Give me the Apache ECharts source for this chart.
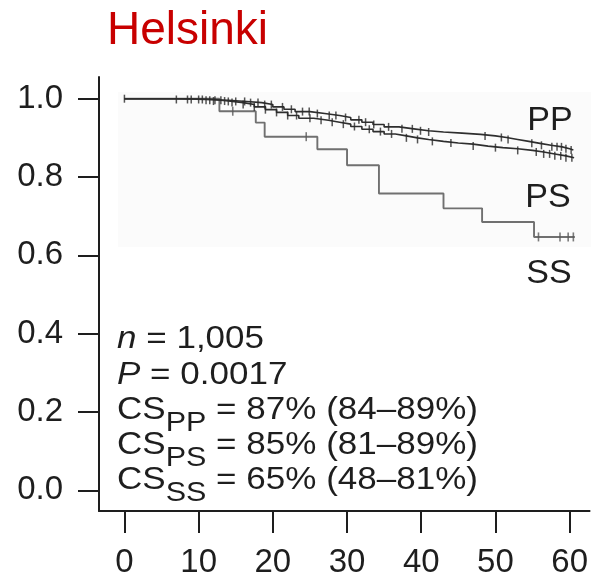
<!DOCTYPE html>
<html>
<head>
<meta charset="utf-8">
<script src="https://cdn.jsdelivr.net/npm/echarts@6/dist/echarts.min.js"></script>
<style>
  html, body { margin: 0; padding: 0; background: #ffffff; }
  #chart { width: 591px; height: 579px; }
</style>
</head>
<body>
<div id="chart"></div>
<script>
// Axis ticks
const xTicks = [0, 10, 20, 30, 40, 50, 60];
const yTicks = [0, 0.2, 0.4, 0.6, 0.8, 1.0];

// Kaplan–Meier steps: [month, survival after the event at that month]
const ppSteps = [[0, 1.0], [7, 0.998], [11, 0.996], [14, 0.993], [16.5, 0.99], [18.5, 0.985], [20, 0.979],
  [21.5, 0.973], [23, 0.967], [25, 0.962], [27, 0.957], [29, 0.952], [30.5, 0.946], [32, 0.94], [33.5, 0.934],
  [35, 0.928], [37, 0.923], [39, 0.918], [41, 0.915], [43, 0.912], [45.5, 0.909], [48, 0.905], [50, 0.901],
  [51.5, 0.896], [53, 0.891], [54.5, 0.886], [56, 0.881], [57.5, 0.877], [59, 0.872], [60, 0.869]];
const psSteps = [[0, 1.0], [9, 0.998], [12, 0.994], [14, 0.99], [16, 0.985], [17.5, 0.979], [19, 0.972],
  [20.5, 0.965], [22, 0.957], [23.5, 0.95], [25.5, 0.945], [27.5, 0.94], [29, 0.935], [30.5, 0.929], [32, 0.922],
  [33.5, 0.916], [35, 0.91], [36.5, 0.905], [38, 0.9], [39.5, 0.896], [41, 0.891], [43, 0.887], [45, 0.884],
  [47, 0.879], [49, 0.875], [51, 0.872], [53, 0.868], [55, 0.864], [56.5, 0.859], [58, 0.854], [59.5, 0.849]];
const ssSteps = [[0, 1.0], [12.8, 0.968], [17.7, 0.939], [18.9, 0.903], [26.0, 0.871], [30.0, 0.83],
  [34.3, 0.758], [43.0, 0.72], [48.2, 0.685], [55.2, 0.647]];

// Last follow-up month of each group
const ppLastFollowUp = 60.5;
const psLastFollowUp = 60.6;
const ssLastFollowUp = 60.7;

// Censored observations (months)
const ppCensored = [0, 7, 8.5, 10, 11, 11.5, 12.2, 13, 14, 15, 16.2, 17, 18, 18.9, 19.8, 21.3, 22.5, 24.0,
  24.9, 26.0, 27.6, 28.5, 29.8, 31.6, 32.5, 33.6, 35.6, 37.4, 38.8, 39.9, 41.0, 48.6, 50.8, 51.7, 54.9,
  56.2, 57.6, 58.3, 58.9, 59.5, 60.2];
const psCensored = [9, 10.5, 12, 13.5, 14.5, 16, 17.5, 19, 20.5, 22, 23.2, 25, 26.5, 28, 29.5, 31, 33, 34.5,
  36, 38, 39.5, 41.5, 44, 47, 50, 53, 55.5, 56.5, 57.3, 58, 58.8, 59.5, 60.3];
const ssCensored = [14.6, 24.5, 55.8, 58.7, 59.8, 60.5];

const groupNames = ['PP', 'PS', 'SS'];
const sampleSize = '1,005';
const pValue = '0.0017';
const csEstimates = ['87% (84\u201389%)', '85% (81\u201389%)', '65% (48\u201381%)'];

const FONT = '"Liberation Sans", Arial, Helvetica, sans-serif';
const INK = '#1e1e1e';

function survivalAt(steps, t) {
  let s = steps[0][1];
  for (const [m, v] of steps) { if (m <= t) s = v; }
  return s;
}
function curveData(steps, last) {
  return steps.concat([[last, steps[steps.length - 1][1]]]);
}
function censorData(steps, times) {
  return times.map(t => [t, survivalAt(steps, t)]);
}

const measureCtx = document.createElement('canvas').getContext('2d');
function textWidth(str, size, style) {
  measureCtx.font = (style || 'normal') + ' ' + size + 'px ' + FONT;
  return measureCtx.measureText(str).width;
}

// Plot frame: axis lines sit away from the data origin, so the axis
// ranges extend a little past 0 on both axes; ticks are placed explicitly.
const GRID = { left: 99, right: 0, top: 77, bottom: 62 };
const X_PX_PER_UNIT = 446.5 / 60;         // 0 -> 124.5px, 60 -> 571px
const Y_PX_PER_UNIT = 397;                // 0 -> 496px, 1 -> 99px
const xMin = -(124.5 - GRID.left) / X_PX_PER_UNIT;
const xMax = 60 + (591 - GRID.right - 571) / X_PX_PER_UNIT;
const yMin = -((579 - GRID.bottom) - 496) / Y_PX_PER_UNIT;
const yMax = 1 + (99 - GRID.top) / Y_PX_PER_UNIT;

// Statistics block
const MAIN = 31, SUB = 27;
const statLines = [];
const lineCenters = [339, 375, 410.7, 445.7, 480.7];
function txt(x, y, s, size, style) {
  return { type: 'text', x: x, y: y, style: { text: s, fill: INK, font: (style || 'normal') + ' ' + size + 'px ' + FONT,
    textAlign: 'left', textVerticalAlign: 'middle' } };
}
statLines.push(txt(0, lineCenters[0], 'n', MAIN, 'italic'));
statLines.push(txt(textWidth('n', MAIN, 'italic'), lineCenters[0], ' = ' + sampleSize, MAIN));
statLines.push(txt(0, lineCenters[1], 'P', MAIN, 'italic'));
statLines.push(txt(textWidth('P', MAIN, 'italic'), lineCenters[1], ' = ' + pValue, MAIN));
groupNames.forEach((g, i) => {
  const yc = lineCenters[2 + i];
  const wCS = textWidth('CS', MAIN);
  const wSub = textWidth(g, SUB);
  statLines.push(txt(0, yc, 'CS', MAIN));
  statLines.push(txt(wCS, yc + 12.5, g, SUB));
  statLines.push(txt(wCS + wSub, yc, ' = ' + csEstimates[i], MAIN));
});

const axisLineStyle = { show: true, onZero: false, lineStyle: { color: INK, width: 2 } };

const option = {
  animation: false,
  backgroundColor: '#ffffff',
  grid: GRID,
  xAxis: {
    type: 'value', min: xMin, max: xMax,
    axisLine: axisLineStyle,
    axisTick: { show: true, customValues: xTicks, length: 22, lineStyle: { color: INK, width: 2 } },
    axisLabel: { customValues: xTicks, margin: 35, fontSize: 33, fontFamily: FONT, color: INK },
    splitLine: { show: false }
  },
  yAxis: {
    type: 'value', min: yMin, max: yMax,
    axisLine: axisLineStyle,
    axisTick: { show: true, customValues: yTicks, length: 21, lineStyle: { color: INK, width: 2 } },
    axisLabel: { customValues: yTicks, margin: 36, fontSize: 33, fontFamily: FONT, color: INK,
      formatter: v => v.toFixed(1) },
    splitLine: { show: false }
  },
  graphic: [
    { type: 'rect', z: -10, shape: { x: 118, y: 92, width: 473, height: 155 }, style: { fill: '#fbfbfb' } },
    { type: 'text', x: 107, y: 31, style: { text: 'Helsinki', fill: '#c80000',
      font: 'normal 46px ' + FONT, textAlign: 'left', textVerticalAlign: 'middle' } },
    { type: 'group', x: 117, y: 0, scaleX: 1.13, children: statLines },
    { type: 'text', x: 550, y: 121, style: { text: groupNames[0], fill: INK, font: 'normal 34px ' + FONT,
      textAlign: 'center', textVerticalAlign: 'middle' } },
    { type: 'text', x: 548, y: 197.5, style: { text: groupNames[1], fill: INK, font: 'normal 34px ' + FONT,
      textAlign: 'center', textVerticalAlign: 'middle' } },
    { type: 'text', x: 549, y: 274, style: { text: groupNames[2], fill: INK, font: 'normal 34px ' + FONT,
      textAlign: 'center', textVerticalAlign: 'middle' } }
  ],
  series: [
    { name: 'SS', type: 'line', step: 'end', showSymbol: false, z: 2,
      data: curveData(ssSteps, ssLastFollowUp), lineStyle: { color: '#707070', width: 1.9 } },
    { name: 'SS censored', type: 'scatter', symbol: 'rect', symbolSize: [1.6, 9], z: 3,
      data: censorData(ssSteps, ssCensored), itemStyle: { color: '#5a5a5a' } },
    { name: 'PS', type: 'line', step: 'end', showSymbol: false, z: 4,
      data: curveData(psSteps, psLastFollowUp), lineStyle: { color: '#2e2e2e', width: 1.6 } },
    { name: 'PS censored', type: 'scatter', symbol: 'rect', symbolSize: [1.5, 8], z: 5,
      data: censorData(psSteps, psCensored), itemStyle: { color: '#2a2a2a' } },
    { name: 'PP', type: 'line', step: 'end', showSymbol: false, z: 4,
      data: curveData(ppSteps, ppLastFollowUp), lineStyle: { color: '#2e2e2e', width: 1.6 } },
    { name: 'PP censored', type: 'scatter', symbol: 'rect', symbolSize: [1.5, 8], z: 5,
      data: censorData(ppSteps, ppCensored), itemStyle: { color: '#2a2a2a' } }
  ]
};

const chart = echarts.init(document.getElementById('chart'), null, { renderer: 'canvas' });
chart.setOption(option);
</script>
</body>
</html>
